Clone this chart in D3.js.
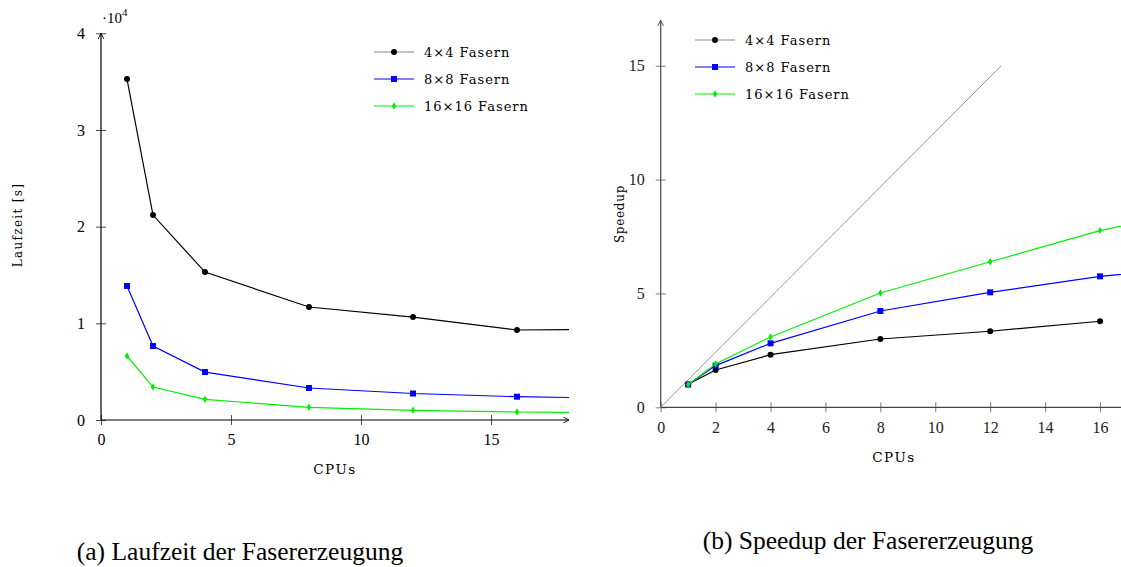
<!DOCTYPE html>
<html>
<head>
<meta charset="utf-8">
<script src="https://cdn.jsdelivr.net/npm/d3@7"></script>
<style>
  body { margin: 0; background: #fff; }
  svg text { font-family: "Liberation Serif", "DejaVu Serif", serif; }
  svg text.small { font-family: "DejaVu Serif", serif; }
</style>
</head>
<body>
<script>
var width = 1121, height = 567;

// data
var cpus = [1, 2, 4, 8, 12, 16, 20];
var cpusSpeed = [1, 2, 4, 8, 12, 16];
var time4 = [35270, 21200, 15300, 11690, 10650, 9310, 9400];
var time8 = [13860, 7650, 4960, 3310, 2740, 2410, 2240];
var time16 = [6620, 3410, 2140, 1310, 1000, 830, 750];
var speed4 = [1.01, 1.64, 2.31, 3.0, 3.34, 3.78];
var speed8 = [1.0, 1.83, 2.81, 4.23, 5.05, 5.75, 6.2];
var speed16 = [1.0, 1.9, 3.09, 5.02, 6.39, 7.76, 8.8];
var idealX = [0, 12.4];
var idealY = [0, 15];
var seriesNames = ["4\u00d74 Fasern", "8\u00d78 Fasern", "16\u00d716 Fasern"];
var seriesColors = ["#000", "#0000ff", "#00ee00"];
var seriesMarks = ["circle", "square", "diamond"];
var leftXTicks = [0, 5, 10, 15];
var leftYTicks = [0, 10000, 20000, 30000, 40000];
var rightXTicks = [0, 2, 4, 6, 8, 10, 12, 14, 16];
var rightYTicks = [0, 5, 10, 15];

var svg = d3.select("body").append("svg").attr("width", width).attr("height", height);
var defs = svg.append("defs");

function arrow(id, col) {
  defs.append("marker").attr("id", id).attr("viewBox", "0 0 10 10")
    .attr("refX", 9).attr("refY", 5).attr("markerWidth", 7).attr("markerHeight", 7)
    .attr("markerUnits", "userSpaceOnUse").attr("orient", "auto")
    .append("path").attr("d", "M1,1 L9,5 L1,9").attr("fill", "none")
    .attr("stroke", col).attr("stroke-width", 1.3);
}
arrow("arrL", "#000");
arrow("arrR", "#444");

function drawMark(g, type, x, y, col) {
  if (type == "circle") g.append("circle").attr("cx", x).attr("cy", y).attr("r", 3).attr("fill", col);
  else if (type == "square") g.append("rect").attr("x", x - 3).attr("y", y - 3).attr("width", 6).attr("height", 6).attr("fill", col);
  else g.append("path").attr("d", d3.symbol().type(d3.symbolDiamond).size(16)()).attr("transform", "translate(" + x + "," + y + ")").attr("fill", col);
}

function makePlot(o) {
  var g = svg.append("g");
  var x = d3.scaleLinear().domain(o.xd).range(o.xr);
  var y = d3.scaleLinear().domain(o.yd).range(o.yr);
  var clipId = o.id + "clip";
  defs.append("clipPath").attr("id", clipId).append("rect")
    .attr("x", o.xr[0] - 5).attr("y", o.yr[1] - 5)
    .attr("width", o.xr[1] - o.xr[0] + 5).attr("height", o.yr[0] - o.yr[1] + 10);

  // axes
  var xa = g.append("g").attr("transform", "translate(0," + o.yr[0] + ")")
    .call(d3.axisBottom(x).tickValues(o.xt).tickSize(5).tickFormat(d3.format("d")));
  var ya = g.append("g").attr("transform", "translate(" + o.xr[0] + ",0)")
    .call(d3.axisLeft(y).tickValues(o.yt).tickSize(5).tickFormat(o.yf));
  [xa, ya].forEach(function (a) {
    a.attr("font-family", null).attr("font-size", null);
    a.select(".domain").remove();
    a.selectAll(".tick line").attr("stroke", o.axisCol).attr("stroke-width", 0.7);
    a.selectAll(".tick text").style("font-size", "16px").attr("fill", o.textCol);
  });
  xa.selectAll(".tick line").attr("y1", -5).attr("y2", 5);
  xa.selectAll(".tick text").attr("y", 14);
  ya.selectAll(".tick line").attr("x1", -5).attr("x2", 5);
  ya.selectAll(".tick text").attr("x", -16);

  g.append("line").attr("x1", o.xr[0]).attr("x2", o.xEnd).attr("y1", o.yr[0]).attr("y2", o.yr[0])
    .attr("stroke", o.axisCol).attr("stroke-width", 1.2).attr("marker-end", "url(#" + o.arr + ")");
  g.append("line").attr("x1", o.xr[0]).attr("x2", o.xr[0]).attr("y1", o.yr[0]).attr("y2", o.yTop)
    .attr("stroke", o.axisCol).attr("stroke-width", 1.2).attr("marker-end", "url(#" + o.arr + ")");

  var plot = g.append("g").attr("clip-path", "url(#" + clipId + ")");
  if (o.ideal) {
    plot.append("line").attr("x1", x(o.ideal[0][0])).attr("y1", y(o.ideal[1][0]))
      .attr("x2", x(o.ideal[0][1])).attr("y2", y(o.ideal[1][1]))
      .attr("stroke", "#999").attr("stroke-width", 1);
  }
  var line = d3.line().x(function (d) { return x(d[0]); }).y(function (d) { return y(d[1]); });
  o.series.forEach(function (s, i) {
    var pts = s.xs.map(function (v, j) { return [v, s.ys[j]]; });
    plot.append("path").datum(pts).attr("d", line).attr("fill", "none")
      .attr("stroke", seriesColors[i]).attr("stroke-width", 1.2);
    pts.forEach(function (p) { drawMark(plot, seriesMarks[i], x(p[0]), y(p[1]), seriesColors[i]); });
  });

  // legend
  seriesNames.forEach(function (n, i) {
    var ly = o.legY + i * 27;
    g.append("line").attr("x1", o.legX).attr("x2", o.legX + 40).attr("y1", ly).attr("y2", ly)
      .attr("stroke", i == 0 ? "#888" : seriesColors[i]).attr("stroke-width", 1.2);
    drawMark(g, seriesMarks[i], o.legX + 20, ly, seriesColors[i]);
    g.append("text").attr("class", "small").attr("x", o.legX + 50).attr("y", ly + 4.5)
      .attr("font-size", 13).attr("letter-spacing", 1).text(n);
  });

  g.append("text").attr("class", "small").attr("x", o.xlabX).attr("y", o.xlabY).attr("text-anchor", "middle")
    .attr("font-size", 13.5).attr("letter-spacing", 1.5).text("CPUs");
  g.append("text").attr("class", "small").attr("transform", "translate(" + o.ylabX + "," + o.ylabCy + ") rotate(-90)")
    .attr("text-anchor", "middle").attr("font-size", 12).attr("letter-spacing", o.ylabLs).text(o.ylab);
  g.append("text").attr("x", o.capX).attr("y", o.capY).attr("text-anchor", "middle")
    .attr("font-size", 25.5).text(o.cap);
  return g;
}

var left = makePlot({
  id: "L", xd: [0, 18], xr: [101, 569], yd: [0, 40000], yr: [420, 33.3],
  xt: leftXTicks, yt: leftYTicks, yf: function (d) { return d / 10000; },
  xEnd: 569, yTop: 33.3, arr: "arrL", axisCol: "#000", textCol: "#000",
  series: [{ xs: cpus, ys: time4 }, { xs: cpus, ys: time8 }, { xs: cpus, ys: time16 }],
  legX: 374, legY: 52, xlabX: 335, xlabY: 474, ylabX: 22, ylabCy: 225, ylab: "Laufzeit [s]", ylabLs: 1.3,
  cap: "(a) Laufzeit der Fasererzeugung", capX: 240, capY: 560
});
left.append("text").attr("x", 102).attr("y", 23).attr("font-size", 15).text("\u00b710")
  .append("tspan").attr("dy", -7).attr("font-size", 11).text("4");

makePlot({
  id: "R", xd: [0, 17], xr: [660.7, 1127.5], yd: [0, 17], yr: [407.3, 20.2],
  xt: rightXTicks, yt: rightYTicks, yf: d3.format("d"),
  xEnd: 1127.5, yTop: 20.2, arr: "arrR", axisCol: "#444", textCol: "#222",
  ideal: [idealX, idealY],
  series: [{ xs: cpusSpeed, ys: speed4 }, { xs: cpus, ys: speed8 }, { xs: cpus, ys: speed16 }],
  legX: 695, legY: 40, xlabX: 894, xlabY: 462, ylabX: 624, ylabCy: 214, ylab: "Speedup", ylabLs: 0.7,
  cap: "(b) Speedup der Fasererzeugung", capX: 868, capY: 549
});
</script>
</body>
</html>
